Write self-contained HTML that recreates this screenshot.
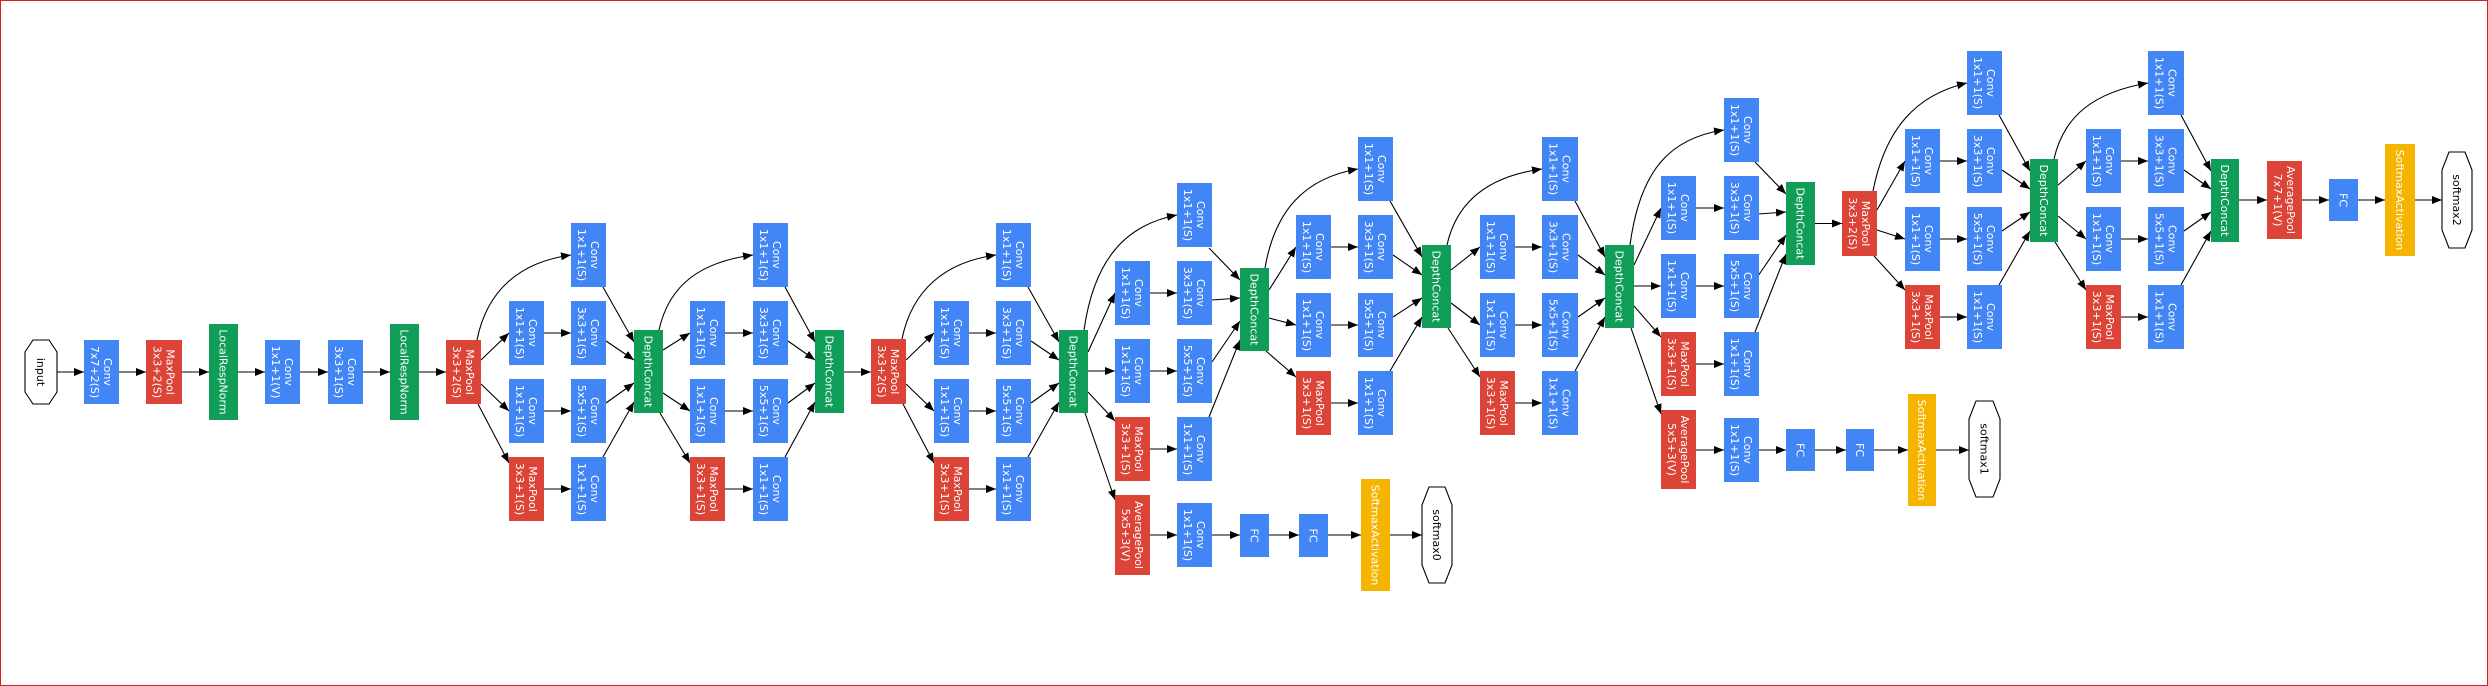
<!DOCTYPE html>
<html><head><meta charset="utf-8"><style>
html,body{margin:0;padding:0;background:#fff}
#w{width:2488px;height:686px;box-sizing:border-box;border:1px solid #d42020;position:relative;overflow:hidden}
svg{position:absolute;left:-1px;top:-1px}
.b{fill:#4285f4}.r{fill:#db4437}.g{fill:#0f9d58}.y{fill:#f4b400}
text{fill:#fff;font-family:"DejaVu Sans","Liberation Sans",sans-serif;font-size:11px;text-anchor:middle}
text.k{fill:#000}
path{fill:none;stroke:#000;stroke-width:1.1}
polygon.o{fill:#fff;stroke:#000;stroke-width:1.1}
</style></head><body><div id="w">
<svg width="2488" height="686" viewBox="0 0 2488 686" xmlns="http://www.w3.org/2000/svg">
<defs><marker id="a" markerUnits="userSpaceOnUse" markerWidth="10" markerHeight="8" refX="10" refY="4" orient="auto"><path d="M0,0 L10,4 L0,8 z" style="fill:#000;stroke:none"/></marker></defs>
<g marker-end="url(#a)">
<path d="M57,372 L84,372"/><path d="M119,372 L146,372"/><path d="M182,372 L209,372"/><path d="M238,372 L265,372"/><path d="M300,372 L328,372"/><path d="M363,372 L390,372"/><path d="M419,372 L446,372"/>
<!-- 3a -->
<path d="M477,340 C487,290 520,262 571,255"/><path d="M481,360 L509,333"/><path d="M481,384 L509,411"/><path d="M478,404 L509,463"/>
<path d="M544,333 L571,333"/><path d="M544,411 L571,411"/><path d="M544,489 L571,489"/>
<path d="M603,287 L634,342"/><path d="M606,341 L634,360"/><path d="M606,403 L634,383"/><path d="M603,457 L634,402"/>
<!-- 3b -->
<path d="M659,330 C669,285 700,262 753,255"/><path d="M663,350 L690,333"/><path d="M663,393 L690,411"/><path d="M660,413 L690,463"/>
<path d="M725,333 L753,333"/><path d="M725,411 L753,411"/><path d="M725,489 L753,489"/>
<path d="M785,287 L815,342"/><path d="M788,341 L815,360"/><path d="M788,403 L815,383"/><path d="M785,457 L815,402"/>
<path d="M844,372 L871,372"/>
<!-- 4a -->
<path d="M902,339 C912,290 945,262 996,255"/><path d="M906,360 L934,333"/><path d="M906,384 L934,411"/><path d="M903,404 L934,463"/>
<path d="M969,333 L996,333"/><path d="M969,411 L996,411"/><path d="M969,489 L996,489"/>
<path d="M1028,287 L1059,342"/><path d="M1031,341 L1059,360"/><path d="M1031,403 L1059,383"/><path d="M1028,457 L1059,402"/>
<!-- 4b -->
<path d="M1084,330 C1094,260 1125,225 1177,215"/><path d="M1088,352 L1115,293"/><path d="M1088,371 L1115,371"/><path d="M1088,392 L1115,421"/><path d="M1085,413 L1115,500"/>
<path d="M1150,293 L1177,293"/><path d="M1150,371 L1177,371"/><path d="M1150,449 L1177,449"/><path d="M1150,535 L1177,535"/>
<path d="M1209,248 L1240,280"/><path d="M1212,300 L1240,298"/><path d="M1212,362 L1240,321"/><path d="M1209,417 L1240,340"/>
<path d="M1212,535 L1240,535"/><path d="M1269,535 L1299,535"/><path d="M1328,535 L1361,535"/><path d="M1390,535 L1422,535"/>
<!-- 4c -->
<path d="M1265,268 C1275,210 1305,178 1358,169"/><path d="M1269,290 L1296,247"/><path d="M1269,318 L1296,325"/><path d="M1266,351 L1296,377"/>
<path d="M1331,247 L1358,247"/><path d="M1331,325 L1358,325"/><path d="M1331,403 L1358,403"/>
<path d="M1390,201 L1422,257"/><path d="M1393,255 L1422,275"/><path d="M1393,317 L1422,298"/><path d="M1390,371 L1422,317"/>
<!-- 4d -->
<path d="M1447,245 C1457,200 1490,176 1542,169"/><path d="M1451,270 L1480,247"/><path d="M1451,303 L1480,325"/><path d="M1448,328 L1480,377"/>
<path d="M1515,247 L1542,247"/><path d="M1515,325 L1542,325"/><path d="M1515,403 L1542,403"/>
<path d="M1575,201 L1605,257"/><path d="M1578,255 L1605,275"/><path d="M1578,317 L1605,298"/><path d="M1575,371 L1605,317"/>
<!-- 4e -->
<path d="M1630,245 C1640,170 1670,138 1724,130"/><path d="M1634,265 L1661,208"/><path d="M1634,286 L1661,286"/><path d="M1634,306 L1661,337"/><path d="M1631,328 L1661,414"/>
<path d="M1696,208 L1724,208"/><path d="M1696,286 L1724,286"/><path d="M1696,364 L1724,364"/><path d="M1696,450 L1724,450"/>
<path d="M1755,162 L1786,194"/><path d="M1758,214 L1786,212"/><path d="M1758,276 L1786,235"/><path d="M1755,332 L1786,254"/>
<path d="M1815,223.5 L1842,223.5"/>
<path d="M1758,450 L1786,450"/><path d="M1815,450 L1846,450"/><path d="M1874,450 L1908,450"/><path d="M1936,450 L1969,450"/>
<!-- 5a -->
<path d="M1873,191 C1885,130 1915,95 1967,83"/><path d="M1877,210 L1905,161"/><path d="M1877,230 L1905,239"/><path d="M1874,256 L1905,290"/>
<path d="M1940,161 L1967,161"/><path d="M1940,239 L1967,239"/><path d="M1940,317 L1967,317"/>
<path d="M1999,115 L2030,171"/><path d="M2002,170 L2030,189"/><path d="M2002,231 L2030,212"/><path d="M1999,285 L2030,231"/>
<!-- 5b -->
<path d="M2054,159 C2064,115 2095,92 2148,83"/><path d="M2058,185 L2086,161"/><path d="M2058,216 L2086,239"/><path d="M2055,242 L2086,290"/>
<path d="M2121,161 L2148,161"/><path d="M2121,239 L2148,239"/><path d="M2121,317 L2148,317"/>
<path d="M2181,115 L2211,171"/><path d="M2184,170 L2211,189"/><path d="M2184,231 L2211,212"/><path d="M2181,285 L2211,231"/>
<path d="M2239,200 L2267,200"/><path d="M2302,200 L2329,200"/><path d="M2358,200 L2385,200"/><path d="M2415,200 L2442,200"/>
</g>

<!-- octagons -->
<polygon class="o" points="33,340 49,340 57,352 57,392 49,404 33,404 25,392 25,352"/>
<text class="k" transform="translate(41 372) rotate(90)" y="4">input</text>
<polygon class="o" points="1429,487 1445,487 1452,505 1452,565 1445,583 1429,583 1422,565 1422,505"/>
<text class="k" transform="translate(1437 535) rotate(90)" y="4">softmax0</text>
<polygon class="o" points="1976,401 1993,401 2000,419 2000,479 1993,497 1976,497 1969,479 1969,419"/>
<text class="k" transform="translate(1984.5 449) rotate(90)" y="4">softmax1</text>
<polygon class="o" points="2449,152 2465,152 2472,170 2472,230 2465,248 2449,248 2442,230 2442,170"/>
<text class="k" transform="translate(2457 200) rotate(90)" y="4">softmax2</text>

<!-- stem -->
<rect class="b" x="84" y="340" width="35" height="64"/><text transform="translate(101.5 372) rotate(90)"><tspan x="0" y="-2.5">Conv</tspan><tspan x="0" y="10.5">7x7+2(S)</tspan></text>
<rect class="r" x="146" y="340" width="36" height="64"/><text transform="translate(164 372) rotate(90)"><tspan x="0" y="-2.5">MaxPool</tspan><tspan x="0" y="10.5">3x3+2(S)</tspan></text>
<rect class="g" x="209" y="324" width="29" height="96"/><text transform="translate(223.5 372) rotate(90)" y="4">LocalRespNorm</text>
<rect class="b" x="265" y="340" width="35" height="64"/><text transform="translate(282.5 372) rotate(90)"><tspan x="0" y="-2.5">Conv</tspan><tspan x="0" y="10.5">1x1+1(V)</tspan></text>
<rect class="b" x="328" y="340" width="35" height="64"/><text transform="translate(345.5 372) rotate(90)"><tspan x="0" y="-2.5">Conv</tspan><tspan x="0" y="10.5">3x3+1(S)</tspan></text>
<rect class="g" x="390" y="324" width="29" height="96"/><text transform="translate(404.5 372) rotate(90)" y="4">LocalRespNorm</text>
<rect class="r" x="446" y="340" width="35" height="64"/><text transform="translate(463.5 372) rotate(90)"><tspan x="0" y="-2.5">MaxPool</tspan><tspan x="0" y="10.5">3x3+2(S)</tspan></text>

<!-- 3a -->
<rect class="b" x="571" y="223" width="35" height="64"/><text transform="translate(588.5 255) rotate(90)"><tspan x="0" y="-2.5">Conv</tspan><tspan x="0" y="10.5">1x1+1(S)</tspan></text>
<rect class="b" x="509" y="301" width="35" height="64"/><text transform="translate(526.5 333) rotate(90)"><tspan x="0" y="-2.5">Conv</tspan><tspan x="0" y="10.5">1x1+1(S)</tspan></text>
<rect class="b" x="571" y="301" width="35" height="64"/><text transform="translate(588.5 333) rotate(90)"><tspan x="0" y="-2.5">Conv</tspan><tspan x="0" y="10.5">3x3+1(S)</tspan></text>
<rect class="b" x="509" y="379" width="35" height="64"/><text transform="translate(526.5 411) rotate(90)"><tspan x="0" y="-2.5">Conv</tspan><tspan x="0" y="10.5">1x1+1(S)</tspan></text>
<rect class="b" x="571" y="379" width="35" height="64"/><text transform="translate(588.5 411) rotate(90)"><tspan x="0" y="-2.5">Conv</tspan><tspan x="0" y="10.5">5x5+1(S)</tspan></text>
<rect class="r" x="509" y="457" width="35" height="64"/><text transform="translate(526.5 489) rotate(90)"><tspan x="0" y="-2.5">MaxPool</tspan><tspan x="0" y="10.5">3x3+1(S)</tspan></text>
<rect class="b" x="571" y="457" width="35" height="64"/><text transform="translate(588.5 489) rotate(90)"><tspan x="0" y="-2.5">Conv</tspan><tspan x="0" y="10.5">1x1+1(S)</tspan></text>
<rect class="g" x="634" y="330" width="29" height="83"/><text transform="translate(648.5 371.5) rotate(90)" y="4">DepthConcat</text>

<!-- 3b -->
<rect class="b" x="753" y="223" width="35" height="64"/><text transform="translate(770.5 255) rotate(90)"><tspan x="0" y="-2.5">Conv</tspan><tspan x="0" y="10.5">1x1+1(S)</tspan></text>
<rect class="b" x="690" y="301" width="35" height="64"/><text transform="translate(707.5 333) rotate(90)"><tspan x="0" y="-2.5">Conv</tspan><tspan x="0" y="10.5">1x1+1(S)</tspan></text>
<rect class="b" x="753" y="301" width="35" height="64"/><text transform="translate(770.5 333) rotate(90)"><tspan x="0" y="-2.5">Conv</tspan><tspan x="0" y="10.5">3x3+1(S)</tspan></text>
<rect class="b" x="690" y="379" width="35" height="64"/><text transform="translate(707.5 411) rotate(90)"><tspan x="0" y="-2.5">Conv</tspan><tspan x="0" y="10.5">1x1+1(S)</tspan></text>
<rect class="b" x="753" y="379" width="35" height="64"/><text transform="translate(770.5 411) rotate(90)"><tspan x="0" y="-2.5">Conv</tspan><tspan x="0" y="10.5">5x5+1(S)</tspan></text>
<rect class="r" x="690" y="457" width="35" height="64"/><text transform="translate(707.5 489) rotate(90)"><tspan x="0" y="-2.5">MaxPool</tspan><tspan x="0" y="10.5">3x3+1(S)</tspan></text>
<rect class="b" x="753" y="457" width="35" height="64"/><text transform="translate(770.5 489) rotate(90)"><tspan x="0" y="-2.5">Conv</tspan><tspan x="0" y="10.5">1x1+1(S)</tspan></text>
<rect class="g" x="815" y="330" width="29" height="83"/><text transform="translate(829.5 371.5) rotate(90)" y="4">DepthConcat</text>
<rect class="r" x="871" y="339" width="35" height="65"/><text transform="translate(888.5 371.5) rotate(90)"><tspan x="0" y="-2.5">MaxPool</tspan><tspan x="0" y="10.5">3x3+2(S)</tspan></text>

<!-- 4a -->
<rect class="b" x="996" y="223" width="35" height="64"/><text transform="translate(1013.5 255) rotate(90)"><tspan x="0" y="-2.5">Conv</tspan><tspan x="0" y="10.5">1x1+1(S)</tspan></text>
<rect class="b" x="934" y="301" width="35" height="64"/><text transform="translate(951.5 333) rotate(90)"><tspan x="0" y="-2.5">Conv</tspan><tspan x="0" y="10.5">1x1+1(S)</tspan></text>
<rect class="b" x="996" y="301" width="35" height="64"/><text transform="translate(1013.5 333) rotate(90)"><tspan x="0" y="-2.5">Conv</tspan><tspan x="0" y="10.5">3x3+1(S)</tspan></text>
<rect class="b" x="934" y="379" width="35" height="64"/><text transform="translate(951.5 411) rotate(90)"><tspan x="0" y="-2.5">Conv</tspan><tspan x="0" y="10.5">1x1+1(S)</tspan></text>
<rect class="b" x="996" y="379" width="35" height="64"/><text transform="translate(1013.5 411) rotate(90)"><tspan x="0" y="-2.5">Conv</tspan><tspan x="0" y="10.5">5x5+1(S)</tspan></text>
<rect class="r" x="934" y="457" width="35" height="64"/><text transform="translate(951.5 489) rotate(90)"><tspan x="0" y="-2.5">MaxPool</tspan><tspan x="0" y="10.5">3x3+1(S)</tspan></text>
<rect class="b" x="996" y="457" width="35" height="64"/><text transform="translate(1013.5 489) rotate(90)"><tspan x="0" y="-2.5">Conv</tspan><tspan x="0" y="10.5">1x1+1(S)</tspan></text>
<rect class="g" x="1059" y="330" width="29" height="83"/><text transform="translate(1073.5 371.5) rotate(90)" y="4">DepthConcat</text>

<!-- 4b -->
<rect class="b" x="1177" y="183" width="35" height="64"/><text transform="translate(1194.5 215) rotate(90)"><tspan x="0" y="-2.5">Conv</tspan><tspan x="0" y="10.5">1x1+1(S)</tspan></text>
<rect class="b" x="1115" y="261" width="35" height="64"/><text transform="translate(1132.5 293) rotate(90)"><tspan x="0" y="-2.5">Conv</tspan><tspan x="0" y="10.5">1x1+1(S)</tspan></text>
<rect class="b" x="1177" y="261" width="35" height="64"/><text transform="translate(1194.5 293) rotate(90)"><tspan x="0" y="-2.5">Conv</tspan><tspan x="0" y="10.5">3x3+1(S)</tspan></text>
<rect class="b" x="1115" y="339" width="35" height="64"/><text transform="translate(1132.5 371) rotate(90)"><tspan x="0" y="-2.5">Conv</tspan><tspan x="0" y="10.5">1x1+1(S)</tspan></text>
<rect class="b" x="1177" y="339" width="35" height="64"/><text transform="translate(1194.5 371) rotate(90)"><tspan x="0" y="-2.5">Conv</tspan><tspan x="0" y="10.5">5x5+1(S)</tspan></text>
<rect class="r" x="1115" y="417" width="35" height="64"/><text transform="translate(1132.5 449) rotate(90)"><tspan x="0" y="-2.5">MaxPool</tspan><tspan x="0" y="10.5">3x3+1(S)</tspan></text>
<rect class="b" x="1177" y="417" width="35" height="64"/><text transform="translate(1194.5 449) rotate(90)"><tspan x="0" y="-2.5">Conv</tspan><tspan x="0" y="10.5">1x1+1(S)</tspan></text>
<rect class="g" x="1240" y="268" width="29" height="83"/><text transform="translate(1254.5 309.5) rotate(90)" y="4">DepthConcat</text>
<!-- aux0 -->
<rect class="r" x="1115" y="495" width="35" height="80"/><text transform="translate(1132.5 535) rotate(90)"><tspan x="0" y="-2.5">AveragePool</tspan><tspan x="0" y="10.5">5x5+3(V)</tspan></text>
<rect class="b" x="1177" y="503" width="35" height="64"/><text transform="translate(1194.5 535) rotate(90)"><tspan x="0" y="-2.5">Conv</tspan><tspan x="0" y="10.5">1x1+1(S)</tspan></text>
<rect class="b" x="1240" y="514" width="29" height="43"/><text transform="translate(1254.5 535.5) rotate(90)" y="4">FC</text>
<rect class="b" x="1299" y="514" width="29" height="43"/><text transform="translate(1313.5 535.5) rotate(90)" y="4">FC</text>
<rect class="y" x="1361" y="479" width="29" height="112"/><text transform="translate(1375.5 535) rotate(90)" y="4">SoftmaxActivation</text>

<!-- 4c -->
<rect class="b" x="1358" y="137" width="35" height="64"/><text transform="translate(1375.5 169) rotate(90)"><tspan x="0" y="-2.5">Conv</tspan><tspan x="0" y="10.5">1x1+1(S)</tspan></text>
<rect class="b" x="1296" y="215" width="35" height="64"/><text transform="translate(1313.5 247) rotate(90)"><tspan x="0" y="-2.5">Conv</tspan><tspan x="0" y="10.5">1x1+1(S)</tspan></text>
<rect class="b" x="1358" y="215" width="35" height="64"/><text transform="translate(1375.5 247) rotate(90)"><tspan x="0" y="-2.5">Conv</tspan><tspan x="0" y="10.5">3x3+1(S)</tspan></text>
<rect class="b" x="1296" y="293" width="35" height="64"/><text transform="translate(1313.5 325) rotate(90)"><tspan x="0" y="-2.5">Conv</tspan><tspan x="0" y="10.5">1x1+1(S)</tspan></text>
<rect class="b" x="1358" y="293" width="35" height="64"/><text transform="translate(1375.5 325) rotate(90)"><tspan x="0" y="-2.5">Conv</tspan><tspan x="0" y="10.5">5x5+1(S)</tspan></text>
<rect class="r" x="1296" y="371" width="35" height="64"/><text transform="translate(1313.5 403) rotate(90)"><tspan x="0" y="-2.5">MaxPool</tspan><tspan x="0" y="10.5">3x3+1(S)</tspan></text>
<rect class="b" x="1358" y="371" width="35" height="64"/><text transform="translate(1375.5 403) rotate(90)"><tspan x="0" y="-2.5">Conv</tspan><tspan x="0" y="10.5">1x1+1(S)</tspan></text>
<rect class="g" x="1422" y="245" width="29" height="83"/><text transform="translate(1436.5 286.5) rotate(90)" y="4">DepthConcat</text>

<!-- 4d -->
<rect class="b" x="1542" y="137" width="36" height="64"/><text transform="translate(1560 169) rotate(90)"><tspan x="0" y="-2.5">Conv</tspan><tspan x="0" y="10.5">1x1+1(S)</tspan></text>
<rect class="b" x="1480" y="215" width="35" height="64"/><text transform="translate(1497.5 247) rotate(90)"><tspan x="0" y="-2.5">Conv</tspan><tspan x="0" y="10.5">1x1+1(S)</tspan></text>
<rect class="b" x="1542" y="215" width="36" height="64"/><text transform="translate(1560 247) rotate(90)"><tspan x="0" y="-2.5">Conv</tspan><tspan x="0" y="10.5">3x3+1(S)</tspan></text>
<rect class="b" x="1480" y="293" width="35" height="64"/><text transform="translate(1497.5 325) rotate(90)"><tspan x="0" y="-2.5">Conv</tspan><tspan x="0" y="10.5">1x1+1(S)</tspan></text>
<rect class="b" x="1542" y="293" width="36" height="64"/><text transform="translate(1560 325) rotate(90)"><tspan x="0" y="-2.5">Conv</tspan><tspan x="0" y="10.5">5x5+1(S)</tspan></text>
<rect class="r" x="1480" y="371" width="35" height="64"/><text transform="translate(1497.5 403) rotate(90)"><tspan x="0" y="-2.5">MaxPool</tspan><tspan x="0" y="10.5">3x3+1(S)</tspan></text>
<rect class="b" x="1542" y="371" width="36" height="64"/><text transform="translate(1560 403) rotate(90)"><tspan x="0" y="-2.5">Conv</tspan><tspan x="0" y="10.5">1x1+1(S)</tspan></text>
<rect class="g" x="1605" y="245" width="29" height="83"/><text transform="translate(1619.5 286.5) rotate(90)" y="4">DepthConcat</text>

<!-- 4e -->
<rect class="b" x="1724" y="98" width="35" height="64"/><text transform="translate(1741.5 130) rotate(90)"><tspan x="0" y="-2.5">Conv</tspan><tspan x="0" y="10.5">1x1+1(S)</tspan></text>
<rect class="b" x="1661" y="176" width="35" height="64"/><text transform="translate(1678.5 208) rotate(90)"><tspan x="0" y="-2.5">Conv</tspan><tspan x="0" y="10.5">1x1+1(S)</tspan></text>
<rect class="b" x="1724" y="176" width="35" height="64"/><text transform="translate(1741.5 208) rotate(90)"><tspan x="0" y="-2.5">Conv</tspan><tspan x="0" y="10.5">3x3+1(S)</tspan></text>
<rect class="b" x="1661" y="254" width="35" height="64"/><text transform="translate(1678.5 286) rotate(90)"><tspan x="0" y="-2.5">Conv</tspan><tspan x="0" y="10.5">1x1+1(S)</tspan></text>
<rect class="b" x="1724" y="254" width="35" height="64"/><text transform="translate(1741.5 286) rotate(90)"><tspan x="0" y="-2.5">Conv</tspan><tspan x="0" y="10.5">5x5+1(S)</tspan></text>
<rect class="r" x="1661" y="332" width="35" height="64"/><text transform="translate(1678.5 364) rotate(90)"><tspan x="0" y="-2.5">MaxPool</tspan><tspan x="0" y="10.5">3x3+1(S)</tspan></text>
<rect class="b" x="1724" y="332" width="35" height="64"/><text transform="translate(1741.5 364) rotate(90)"><tspan x="0" y="-2.5">Conv</tspan><tspan x="0" y="10.5">1x1+1(S)</tspan></text>
<rect class="g" x="1786" y="182" width="29" height="83"/><text transform="translate(1800.5 223.5) rotate(90)" y="4">DepthConcat</text>
<!-- aux1 -->
<rect class="r" x="1661" y="410" width="35" height="79"/><text transform="translate(1678.5 449.5) rotate(90)"><tspan x="0" y="-2.5">AveragePool</tspan><tspan x="0" y="10.5">5x5+3(V)</tspan></text>
<rect class="b" x="1724" y="418" width="35" height="64"/><text transform="translate(1741.5 450) rotate(90)"><tspan x="0" y="-2.5">Conv</tspan><tspan x="0" y="10.5">1x1+1(S)</tspan></text>
<rect class="b" x="1786" y="429" width="29" height="42"/><text transform="translate(1800.5 450) rotate(90)" y="4">FC</text>
<rect class="b" x="1846" y="429" width="28" height="42"/><text transform="translate(1860 450) rotate(90)" y="4">FC</text>
<rect class="y" x="1908" y="394" width="28" height="112"/><text transform="translate(1922 450) rotate(90)" y="4">SoftmaxActivation</text>

<rect class="r" x="1842" y="191" width="35" height="65"/><text transform="translate(1859.5 223.5) rotate(90)"><tspan x="0" y="-2.5">MaxPool</tspan><tspan x="0" y="10.5">3x3+2(S)</tspan></text>

<!-- 5a -->
<rect class="b" x="1967" y="51" width="35" height="64"/><text transform="translate(1984.5 83) rotate(90)"><tspan x="0" y="-2.5">Conv</tspan><tspan x="0" y="10.5">1x1+1(S)</tspan></text>
<rect class="b" x="1905" y="129" width="35" height="64"/><text transform="translate(1922.5 161) rotate(90)"><tspan x="0" y="-2.5">Conv</tspan><tspan x="0" y="10.5">1x1+1(S)</tspan></text>
<rect class="b" x="1967" y="129" width="35" height="64"/><text transform="translate(1984.5 161) rotate(90)"><tspan x="0" y="-2.5">Conv</tspan><tspan x="0" y="10.5">3x3+1(S)</tspan></text>
<rect class="b" x="1905" y="207" width="35" height="64"/><text transform="translate(1922.5 239) rotate(90)"><tspan x="0" y="-2.5">Conv</tspan><tspan x="0" y="10.5">1x1+1(S)</tspan></text>
<rect class="b" x="1967" y="207" width="35" height="64"/><text transform="translate(1984.5 239) rotate(90)"><tspan x="0" y="-2.5">Conv</tspan><tspan x="0" y="10.5">5x5+1(S)</tspan></text>
<rect class="r" x="1905" y="285" width="35" height="64"/><text transform="translate(1922.5 317) rotate(90)"><tspan x="0" y="-2.5">MaxPool</tspan><tspan x="0" y="10.5">3x3+1(S)</tspan></text>
<rect class="b" x="1967" y="285" width="35" height="64"/><text transform="translate(1984.5 317) rotate(90)"><tspan x="0" y="-2.5">Conv</tspan><tspan x="0" y="10.5">1x1+1(S)</tspan></text>
<rect class="g" x="2030" y="159" width="28" height="83"/><text transform="translate(2044 200.5) rotate(90)" y="4">DepthConcat</text>

<!-- 5b -->
<rect class="b" x="2148" y="51" width="36" height="64"/><text transform="translate(2166 83) rotate(90)"><tspan x="0" y="-2.5">Conv</tspan><tspan x="0" y="10.5">1x1+1(S)</tspan></text>
<rect class="b" x="2086" y="129" width="35" height="64"/><text transform="translate(2103.5 161) rotate(90)"><tspan x="0" y="-2.5">Conv</tspan><tspan x="0" y="10.5">1x1+1(S)</tspan></text>
<rect class="b" x="2148" y="129" width="36" height="64"/><text transform="translate(2166 161) rotate(90)"><tspan x="0" y="-2.5">Conv</tspan><tspan x="0" y="10.5">3x3+1(S)</tspan></text>
<rect class="b" x="2086" y="207" width="35" height="64"/><text transform="translate(2103.5 239) rotate(90)"><tspan x="0" y="-2.5">Conv</tspan><tspan x="0" y="10.5">1x1+1(S)</tspan></text>
<rect class="b" x="2148" y="207" width="36" height="64"/><text transform="translate(2166 239) rotate(90)"><tspan x="0" y="-2.5">Conv</tspan><tspan x="0" y="10.5">5x5+1(S)</tspan></text>
<rect class="r" x="2086" y="285" width="35" height="64"/><text transform="translate(2103.5 317) rotate(90)"><tspan x="0" y="-2.5">MaxPool</tspan><tspan x="0" y="10.5">3x3+1(S)</tspan></text>
<rect class="b" x="2148" y="285" width="36" height="64"/><text transform="translate(2166 317) rotate(90)"><tspan x="0" y="-2.5">Conv</tspan><tspan x="0" y="10.5">1x1+1(S)</tspan></text>
<rect class="g" x="2211" y="159" width="28" height="83"/><text transform="translate(2225 200.5) rotate(90)" y="4">DepthConcat</text>

<!-- tail -->
<rect class="r" x="2267" y="161" width="35" height="78"/><text transform="translate(2284.5 200) rotate(90)"><tspan x="0" y="-2.5">AveragePool</tspan><tspan x="0" y="10.5">7x7+1(V)</tspan></text>
<rect class="b" x="2329" y="179" width="29" height="42"/><text transform="translate(2343.5 200) rotate(90)" y="4">FC</text>
<rect class="y" x="2385" y="144" width="30" height="112"/><text transform="translate(2400 200) rotate(90)" y="4">SoftmaxActivation</text>
</svg>
</div></body></html>
